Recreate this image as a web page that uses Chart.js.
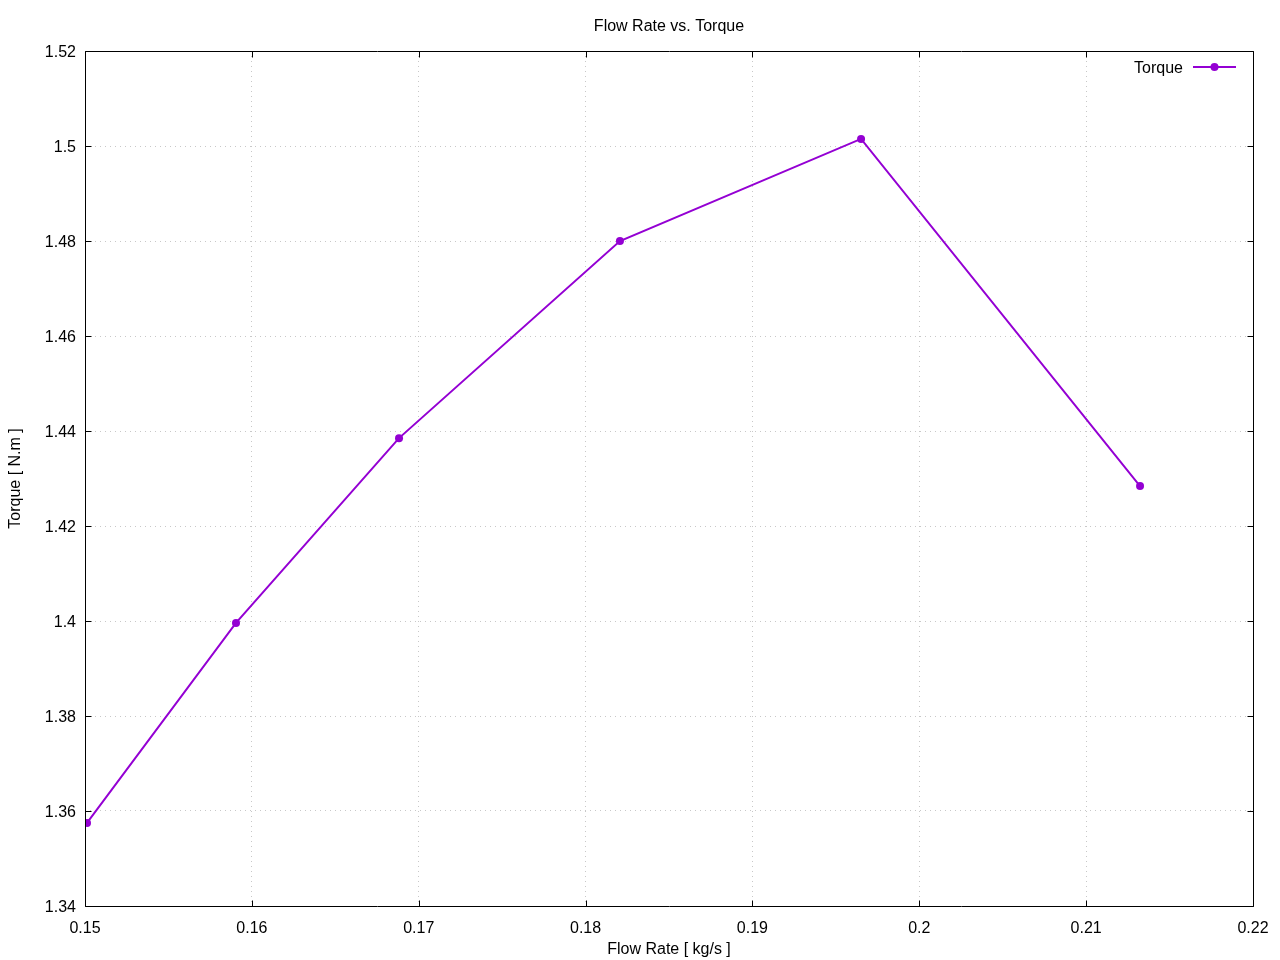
<!DOCTYPE html>
<html>
<head>
<meta charset="utf-8">
<script src="https://cdn.jsdelivr.net/npm/chart.js@4"></script>
<style>
  html, body { margin: 0; padding: 0; background: #fff; }
  #wrap { width: 1280px; height: 960px; }
</style>
</head>
<body>
<div id="wrap"><canvas id="c" width="1280" height="960"></canvas></div>
<script>
const chartTitle = "Flow Rate vs. Torque";
const xTitle = "Flow Rate [ kg/s ]";
const yTitle = "Torque [ N.m ]";
const seriesName = "Torque";
const flowRate = [0.15012, 0.15905, 0.16882, 0.18206, 0.19651, 0.21323];
const torque = [1.3575, 1.3996, 1.4385, 1.4800, 1.5015, 1.4284];
const xTicks = [0.15, 0.16, 0.17, 0.18, 0.19, 0.20, 0.21, 0.22];
const yTicks = [1.34, 1.36, 1.38, 1.40, 1.42, 1.44, 1.46, 1.48, 1.50, 1.52];
const xTickLabels = ["0.15", "0.16", "0.17", "0.18", "0.19", "0.2", "0.21", "0.22"];
const yTickLabels = ["1.34", "1.36", "1.38", "1.4", "1.42", "1.44", "1.46", "1.48", "1.5", "1.52"];

const COLOR = "#9400d3";
const FONT = "'Liberation Sans', Arial, sans-serif";

const framePlugin = {
  id: 'frame',
  afterDatasetsDraw(chart) {
    const {ctx, chartArea: a, scales: {x, y}} = chart;
    ctx.save();
    ctx.strokeStyle = '#000';
    ctx.lineWidth = 1;
    ctx.beginPath();
    const L = Math.round(a.left) + 0.5, R = Math.round(a.right) + 0.5;
    const T = Math.round(a.top) + 0.5, B = Math.round(a.bottom) + 0.5;
    ctx.rect(L, T, R - L, B - T);
    const tk = 6;
    x.ticks.forEach(t => {
      const px = Math.round(x.getPixelForValue(t.value)) + 0.5;
      ctx.moveTo(px, B); ctx.lineTo(px, B - tk);
      ctx.moveTo(px, T); ctx.lineTo(px, T + tk);
    });
    y.ticks.forEach(t => {
      const py = Math.round(y.getPixelForValue(t.value)) + 0.5;
      ctx.moveTo(L, py); ctx.lineTo(L + tk, py);
      ctx.moveTo(R, py); ctx.lineTo(R - tk, py);
    });
    ctx.stroke();
    ctx.restore();
  },
  afterDraw(chart) {
    const {ctx, chartArea: a} = chart;
    const ds = chart.data.datasets[0];
    ctx.save();
    const ly = a.top + 16;
    const textRight = a.right - 70;
    ctx.font = "16px " + FONT;
    ctx.fillStyle = '#000';
    ctx.textAlign = 'right';
    ctx.textBaseline = 'middle';
    ctx.fillText(ds.label, textRight, ly + 2);
    const x0 = textRight + 10, x1 = a.right - 17;
    ctx.strokeStyle = COLOR;
    ctx.lineWidth = 2;
    ctx.beginPath();
    ctx.moveTo(x0, ly); ctx.lineTo(x1, ly);
    ctx.stroke();
    ctx.fillStyle = COLOR;
    ctx.beginPath();
    ctx.arc((x0 + x1) / 2, ly, 4, 0, Math.PI * 2);
    ctx.fill();
    ctx.restore();
  }
};

new Chart(document.getElementById('c'), {
  type: 'line',
  data: {
    datasets: [{
      label: seriesName,
      data: flowRate.map((v, i) => ({x: v, y: torque[i]})),
      borderColor: COLOR,
      backgroundColor: COLOR,
      borderWidth: 2,
      pointRadius: 4,
      pointHoverRadius: 4,
      pointBorderWidth: 0,
      tension: 0,
      fill: false
    }]
  },
  options: {
    responsive: false,
    animation: false,
    events: [],
    layout: { padding: { left: 0, right: 27, top: 0, bottom: 0 } },
    plugins: {
      legend: { display: false },
      tooltip: { enabled: false },
      title: {
        display: true,
        fullSize: false,
        text: chartTitle,
        color: '#000',
        font: { family: FONT, size: 16, weight: 'normal', lineHeight: 1.2 },
        padding: { top: 16.5, bottom: 15.3 }
      }
    },
    scales: {
      x: {
        type: 'linear',
        min: 0.15, max: 0.22,
        afterBuildTicks: s => { s.ticks = xTicks.map(v => ({value: v})); },
        afterFit: s => { s.height = 54; s.paddingLeft = 0; s.paddingRight = 0; },
        ticks: {
          color: '#000',
          font: { family: FONT, size: 16 },
          padding: 13,
          maxRotation: 0,
          autoSkip: false,
          callback: (v, i) => xTickLabels[i]
        },
        grid: { color: '#c8c8c8', drawTicks: false, lineWidth: 1 },
        border: { display: false, dash: [1, 4] },
        title: {
          display: true, text: xTitle, color: '#000',
          font: { family: FONT, size: 16, lineHeight: 1.2 },
          padding: { top: 0, bottom: 1 }
        }
      },
      y: {
        type: 'linear',
        min: 1.34, max: 1.52,
        afterBuildTicks: s => { s.ticks = yTicks.map(v => ({value: v})); },
        afterFit: s => { s.width = 85; s.paddingTop = 0; s.paddingBottom = 0; },
        ticks: {
          color: '#000',
          font: { family: FONT, size: 16 },
          padding: 9,
          labelOffset: 1.5,
          autoSkip: false,
          callback: (v, i) => yTickLabels[i]
        },
        grid: { color: '#c8c8c8', drawTicks: false, lineWidth: 1 },
        border: { display: false, dash: [1, 4] },
        title: {
          display: true, text: yTitle, color: '#000',
          font: { family: FONT, size: 16, lineHeight: 1.2 },
          padding: { top: 5.5, bottom: 0 }
        }
      }
    }
  },
  plugins: [framePlugin]
});
</script>
</body>
</html>
